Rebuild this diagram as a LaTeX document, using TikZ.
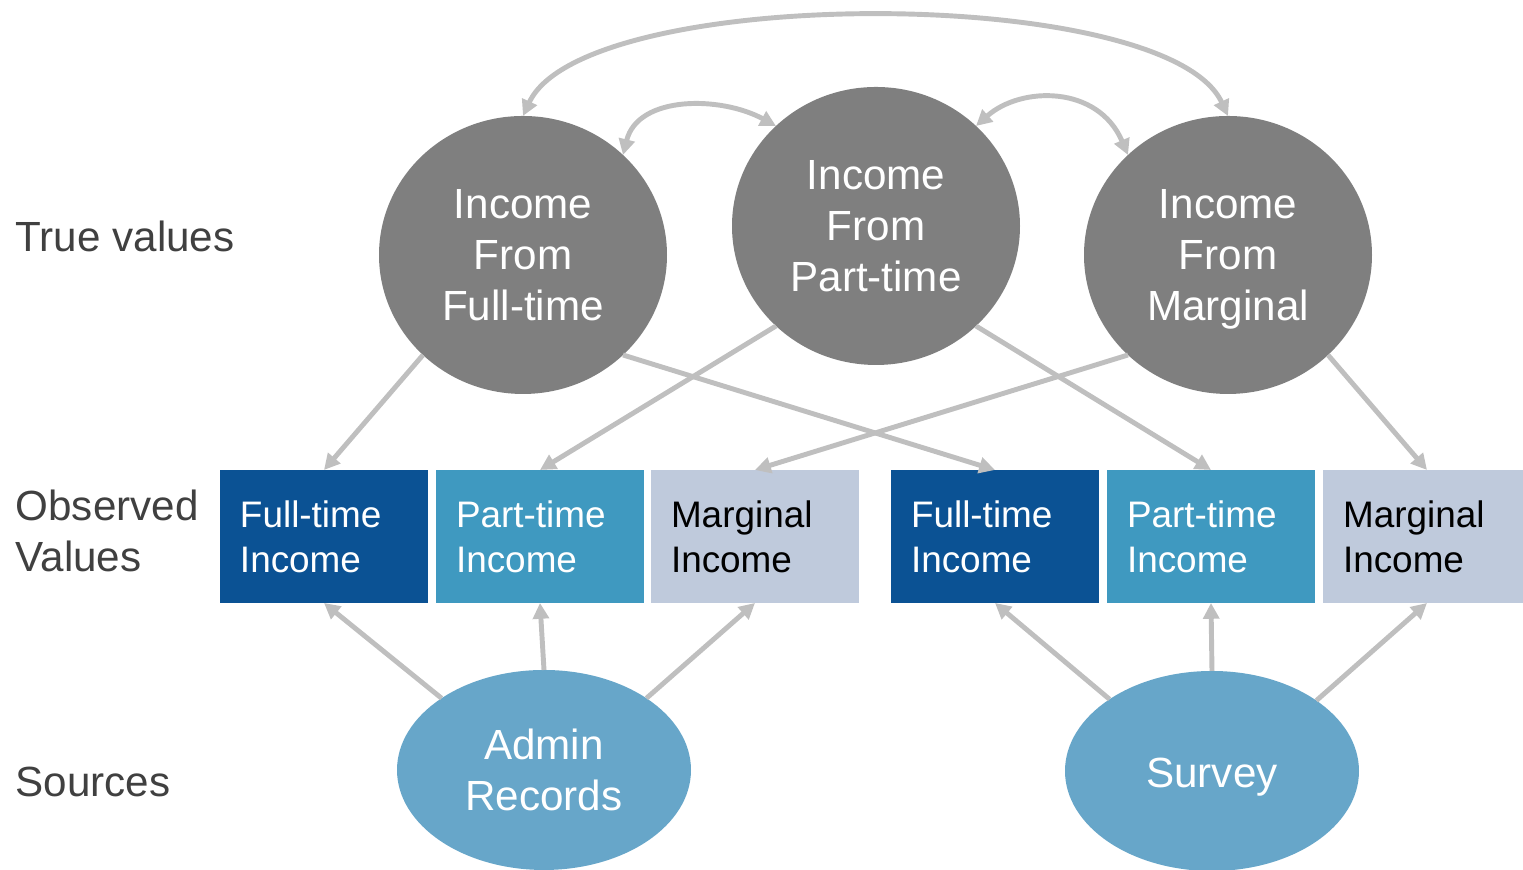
\documentclass[tikz,border=0pt]{standalone}
\usepackage{fontspec}
\setmainfont{Liberation Sans}
\usetikzlibrary{positioning, arrows.meta, shapes.geometric}

\definecolor{truegray}{HTML}{7F7F7F}
\definecolor{linegray}{HTML}{BFBFBF}
\definecolor{fullblue}{HTML}{0B5294}
\definecolor{partblue}{HTML}{3F99C0}
\definecolor{margblue}{HTML}{BFCADC}
\definecolor{srcblue}{HTML}{67A6C9}
\definecolor{labelgray}{HTML}{404040}

\tikzset{
  truevalue/.style={ellipse, fill=truegray, text=white, minimum width=2.88cm,
    minimum height=2.78cm, inner sep=0pt, outer sep=0pt, align=center,
    font=\fontsize{12}{14.5}\selectfont},
  obsbox/.style={rectangle, minimum width=2.08cm, minimum height=1.33cm,
    text width=1.68cm, inner xsep=0.2cm, outer sep=0pt, align=left,
    font=\fontsize{10.5}{12.8}\selectfont},
  source/.style={ellipse, fill=srcblue, text=white, minimum width=2.94cm,
    minimum height=2cm, inner sep=0pt, outer sep=0pt, align=center,
    font=\fontsize{12}{14.5}\selectfont},
  rowlabel/.style={anchor=west, text=labelgray, align=left, inner sep=0pt,
    font=\fontsize{12}{14.7}\selectfont},
  link/.style={draw=linegray, line width=1.4pt,
    -{Triangle[length=4.5pt,width=4.5pt]}},
  twoway/.style={link, {Triangle[length=4.5pt,width=4.5pt]}-{Triangle[length=4.5pt,width=4.5pt]}}
}

\begin{document}
\begin{tikzpicture}
    \useasboundingbox (0,0) rectangle (15.23,8.7);

    % Row labels
    \node[rowlabel] (lbltrue) at (0.15,6.34) {True values};
    \node[rowlabel] (lblobs) at (0.15,3.39) {Observed\\Values};
    \node[rowlabel] (lblsrc) at (0.15,0.88) {Sources};

    % True values
    \node[truevalue] (fulltrue) at (5.23,6.15) {Income\\From\\Full-time};
    \node[truevalue] (parttrue) at (8.76,6.44) {Income\\From\\Part-time};
    \node[truevalue] (margtrue) at (12.28,6.15) {Income\\From\\\smash{Marginal}};

    % Observed values, admin side then survey side
    \node[obsbox, fill=fullblue, text=white, anchor=west] (adfull) at (2.20,3.335) {Full-time\\Income};
    \node[obsbox, fill=partblue, text=white, right=0.08cm of adfull] (adpart) {Part-time\\Income};
    \node[obsbox, fill=margblue, text=black, right=0.07cm of adpart] (admarg) {Marginal\\Income};
    \node[obsbox, fill=fullblue, text=white, right=0.32cm of admarg] (svfull) {Full-time\\Income};
    \node[obsbox, fill=partblue, text=white, right=0.08cm of svfull] (svpart) {Part-time\\Income};
    \node[obsbox, fill=margblue, text=black, right=0.08cm of svpart] (svmarg) {Marginal\\Income};

    % Sources
    \node[source] (admin) at (5.44,1.00) {Admin\\Records};
    \node[source] (survey) at (12.12,0.99) {\raisebox{-0.06cm}[\height][\depth]{Survey}};

    % Correlations between the true values
    \draw[twoway] (fulltrue.north) .. controls +(0.61,1.32) and +(-0.61,1.32) .. (margtrue.north);
    \draw[twoway] (fulltrue.45) .. controls +(0.15,0.6) and +(-0.55,0.3) .. (parttrue.135);
    \draw[twoway] (parttrue.45) .. controls +(0.45,0.4) and +(-0.3,0.7) .. (margtrue.135);

    % True values to observed values
    \draw[link] (fulltrue.-135) -- (adfull.north);
    \draw[link] (fulltrue.-45) -- (svfull.north);
    \draw[link] (parttrue.-135) -- (adpart.north);
    \draw[link] (parttrue.-45) -- (svpart.north);
    \draw[link] (margtrue.-135) -- (admarg.north);
    \draw[link] (margtrue.-45) -- (svmarg.north);

    % Sources to observed values
    \draw[link] (admin.145) -- (adfull.south);
    \draw[link] (admin.north) -- (adpart.south);
    \draw[link] (admin.35) -- (admarg.south);
    \draw[link] (survey.145) -- (svfull.south);
    \draw[link] (survey.north) -- (svpart.south);
    \draw[link] (survey.34) -- (svmarg.south);

\end{tikzpicture}
\end{document}
